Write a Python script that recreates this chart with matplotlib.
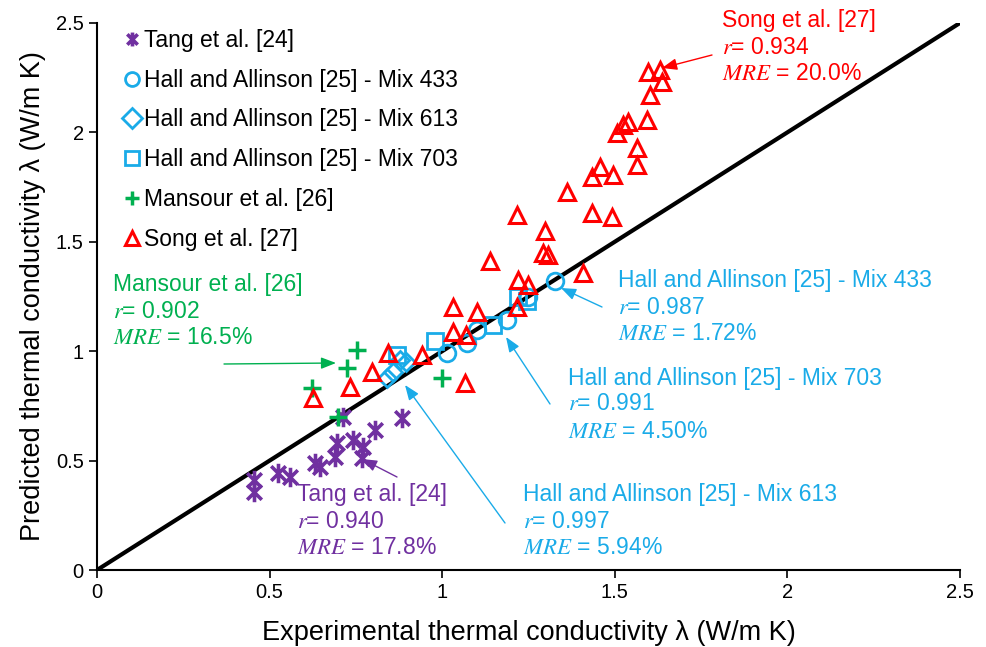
import matplotlib
matplotlib.use('Agg')
import matplotlib.pyplot as plt
from matplotlib.path import Path

plt.rcParams['font.family'] = ['Liberation Sans', 'DejaVu Sans']
plt.rcParams['mathtext.fontset'] = 'stix'

purple = '#7030A0'
blue = '#1AABE8'
green = '#00B050'
red = '#FF0000'

# data
tang_x = [0.455, 0.455, 0.524, 0.559, 0.632, 0.646, 0.689, 0.695, 0.713, 0.742, 0.771, 0.768, 0.805, 0.884]
tang_y = [0.41, 0.356, 0.443, 0.425, 0.489, 0.471, 0.517, 0.58, 0.70, 0.594, 0.562, 0.512, 0.64, 0.695]

mix433_x = [1.014, 1.072, 1.10, 1.188, 1.249, 1.327]
mix433_y = [0.992, 1.037, 1.097, 1.143, 1.248, 1.32]

mix613_x = [0.84, 0.857, 0.878, 0.895]
mix613_y = [0.877, 0.905, 0.96, 0.951]

mix703_x = [0.869, 0.979, 1.147, 1.22, 1.245]
mix703_y = [0.983, 1.045, 1.12, 1.248, 1.23]

mansour_x = [0.623, 0.698, 0.724, 0.753, 0.999]
mansour_y = [0.832, 0.70, 0.923, 1.005, 0.877]

song_x = [0.626, 0.733, 0.797, 0.843, 0.941, 1.066, 1.031, 1.07, 1.031, 1.10, 1.138, 1.217,
          1.22, 1.249, 1.217, 1.292, 1.306, 1.298, 1.408, 1.362, 1.434, 1.492, 1.434, 1.457,
          1.495, 1.506, 1.524, 1.538, 1.564, 1.564, 1.593, 1.602, 1.596, 1.631, 1.637]
song_y = [0.786, 0.836, 0.905, 0.99, 0.983, 0.855, 1.088, 1.074, 1.202, 1.18, 1.412, 1.202,
          1.325, 1.303, 1.622, 1.449, 1.44, 1.55, 1.357, 1.728, 1.632, 1.613, 1.796, 1.842,
          1.805, 1.997, 2.034, 2.048, 1.929, 1.851, 2.057, 2.171, 2.276, 2.285, 2.23]

ticks = [0, 0.5, 1, 1.5, 2, 2.5]
tick_labels = ['0', '0.5', '1', '1.5', '2', '2.5']

# excel style star: x with a vertical bar
star = Path([(0, -1), (0, 1), (-0.75, -0.75), (0.75, 0.75), (-0.75, 0.75), (0.75, -0.75)],
            [Path.MOVETO, Path.LINETO, Path.MOVETO, Path.LINETO, Path.MOVETO, Path.LINETO])

fig = plt.figure(figsize=(9.87, 6.47), dpi=100)
ax = fig.add_axes([0.0983, 0.119, 0.8743, 0.8455])

ax.plot([0, 2.5], [0, 2.5], color='black', linewidth=3, zorder=1)

ax.plot(tang_x, tang_y, linestyle='none', marker=star, markersize=14, markeredgewidth=2.6,
        color=purple, label='Tang et al. [24]', zorder=3)
ax.plot(mix433_x, mix433_y, linestyle='none', marker='o', markersize=12, markeredgewidth=2,
        markerfacecolor='none', color=blue, label='Hall and Allinson [25] - Mix 433', zorder=3)
ax.plot(mix613_x, mix613_y, linestyle='none', marker='D', markersize=9, markeredgewidth=2,
        markerfacecolor='none', color=blue, label='Hall and Allinson [25] - Mix 613', zorder=3)
ax.plot(mix703_x, mix703_y, linestyle='none', marker='s', markersize=11, markeredgewidth=2,
        markerfacecolor='none', color=blue, label='Hall and Allinson [25] - Mix 703', zorder=3)
ax.plot(mansour_x, mansour_y, linestyle='none', marker='+', markersize=13, markeredgewidth=2.5,
        color=green, label='Mansour et al. [26]', zorder=3)
ax.plot(song_x, song_y, linestyle='none', marker='^', markersize=12, markeredgewidth=2.2,
        markerfacecolor='none', color=red, label='Song et al. [27]', zorder=3)

ax.set_xlim(0, 2.5)
ax.set_ylim(0, 2.5)
ax.set_xticks(ticks)
ax.set_xticklabels(tick_labels)
ax.set_yticks(ticks)
ax.set_yticklabels(tick_labels)
ax.tick_params(labelsize=14.5, direction='out', length=6, width=1.2)
ax.spines['top'].set_visible(False)
ax.spines['right'].set_visible(False)
ax.spines['left'].set_linewidth(1.5)
ax.spines['bottom'].set_linewidth(1.5)
ax.set_xlabel('Experimental thermal conductivity λ (W/m K)', fontsize=19.5, labelpad=13)
ax.set_ylabel('Predicted thermal conductivity λ (W/m K)', fontsize=19.5, labelpad=7)

leg = ax.legend(loc='upper left', bbox_to_anchor=(121 / 987, (647 - 29) / 647),
                bbox_transform=fig.transFigure, frameon=False, fontsize=16.5,
                handletextpad=0.0, handlelength=1.0, labelspacing=0.73,
                borderaxespad=0, borderpad=0)
for h in leg.legend_handles:
    h.set_markersize(10)


def note(text_lines, x0, ys, xy_head, xy_tail, color):
    # three lines of annotation text plus a thin arrow (figure pixels, from top)
    for t, y in zip(text_lines, ys):
        ax.annotate(t, xy=(x0, 647 - y), xycoords='figure pixels', color=color,
                    fontsize=16.5, va='center', ha='left', annotation_clip=False)
    ax.annotate('', xy=(xy_head[0], 647 - xy_head[1]), xytext=(xy_tail[0], 647 - xy_tail[1]),
                xycoords='figure pixels', textcoords='figure pixels',
                arrowprops=dict(arrowstyle='-|>,head_length=0.9,head_width=0.35',
                                color=color, lw=1.0, shrinkA=0, shrinkB=0))


note(['Song et al. [27]', r'$\mathit{r}$= 0.934', r'$\mathit{MRE}$ = 20.0%'],
     722, [21, 47, 74], (662, 68), (712, 55), red)
note(['Hall and Allinson [25] - Mix 433', r'$\mathit{r}$= 0.987', r'$\mathit{MRE}$ = 1.72%'],
     618, [280, 307, 334], (561, 288), (602, 307), blue)
note(['Hall and Allinson [25] - Mix 703', r'$\mathit{r}$= 0.991', r'$\mathit{MRE}$ = 4.50%'],
     568, [378, 404, 431], (506, 337), (550, 404), blue)
note(['Hall and Allinson [25] - Mix 613', r'$\mathit{r}$= 0.997', r'$\mathit{MRE}$ = 5.94%'],
     523, [495, 521, 548], (405, 385), (505, 523), blue)
note(['Tang et al. [24]', r'$\mathit{r}$= 0.940', r'$\mathit{MRE}$ = 17.8%'],
     297, [495, 521, 548], (362, 459), (397, 477), purple)
note(['Mansour et al. [26]', r'$\mathit{r}$= 0.902', r'$\mathit{MRE}$ = 16.5%'],
     113, [285, 311, 337], (336, 363), (224, 364), green)

fig.savefig('out.png', dpi=100)
